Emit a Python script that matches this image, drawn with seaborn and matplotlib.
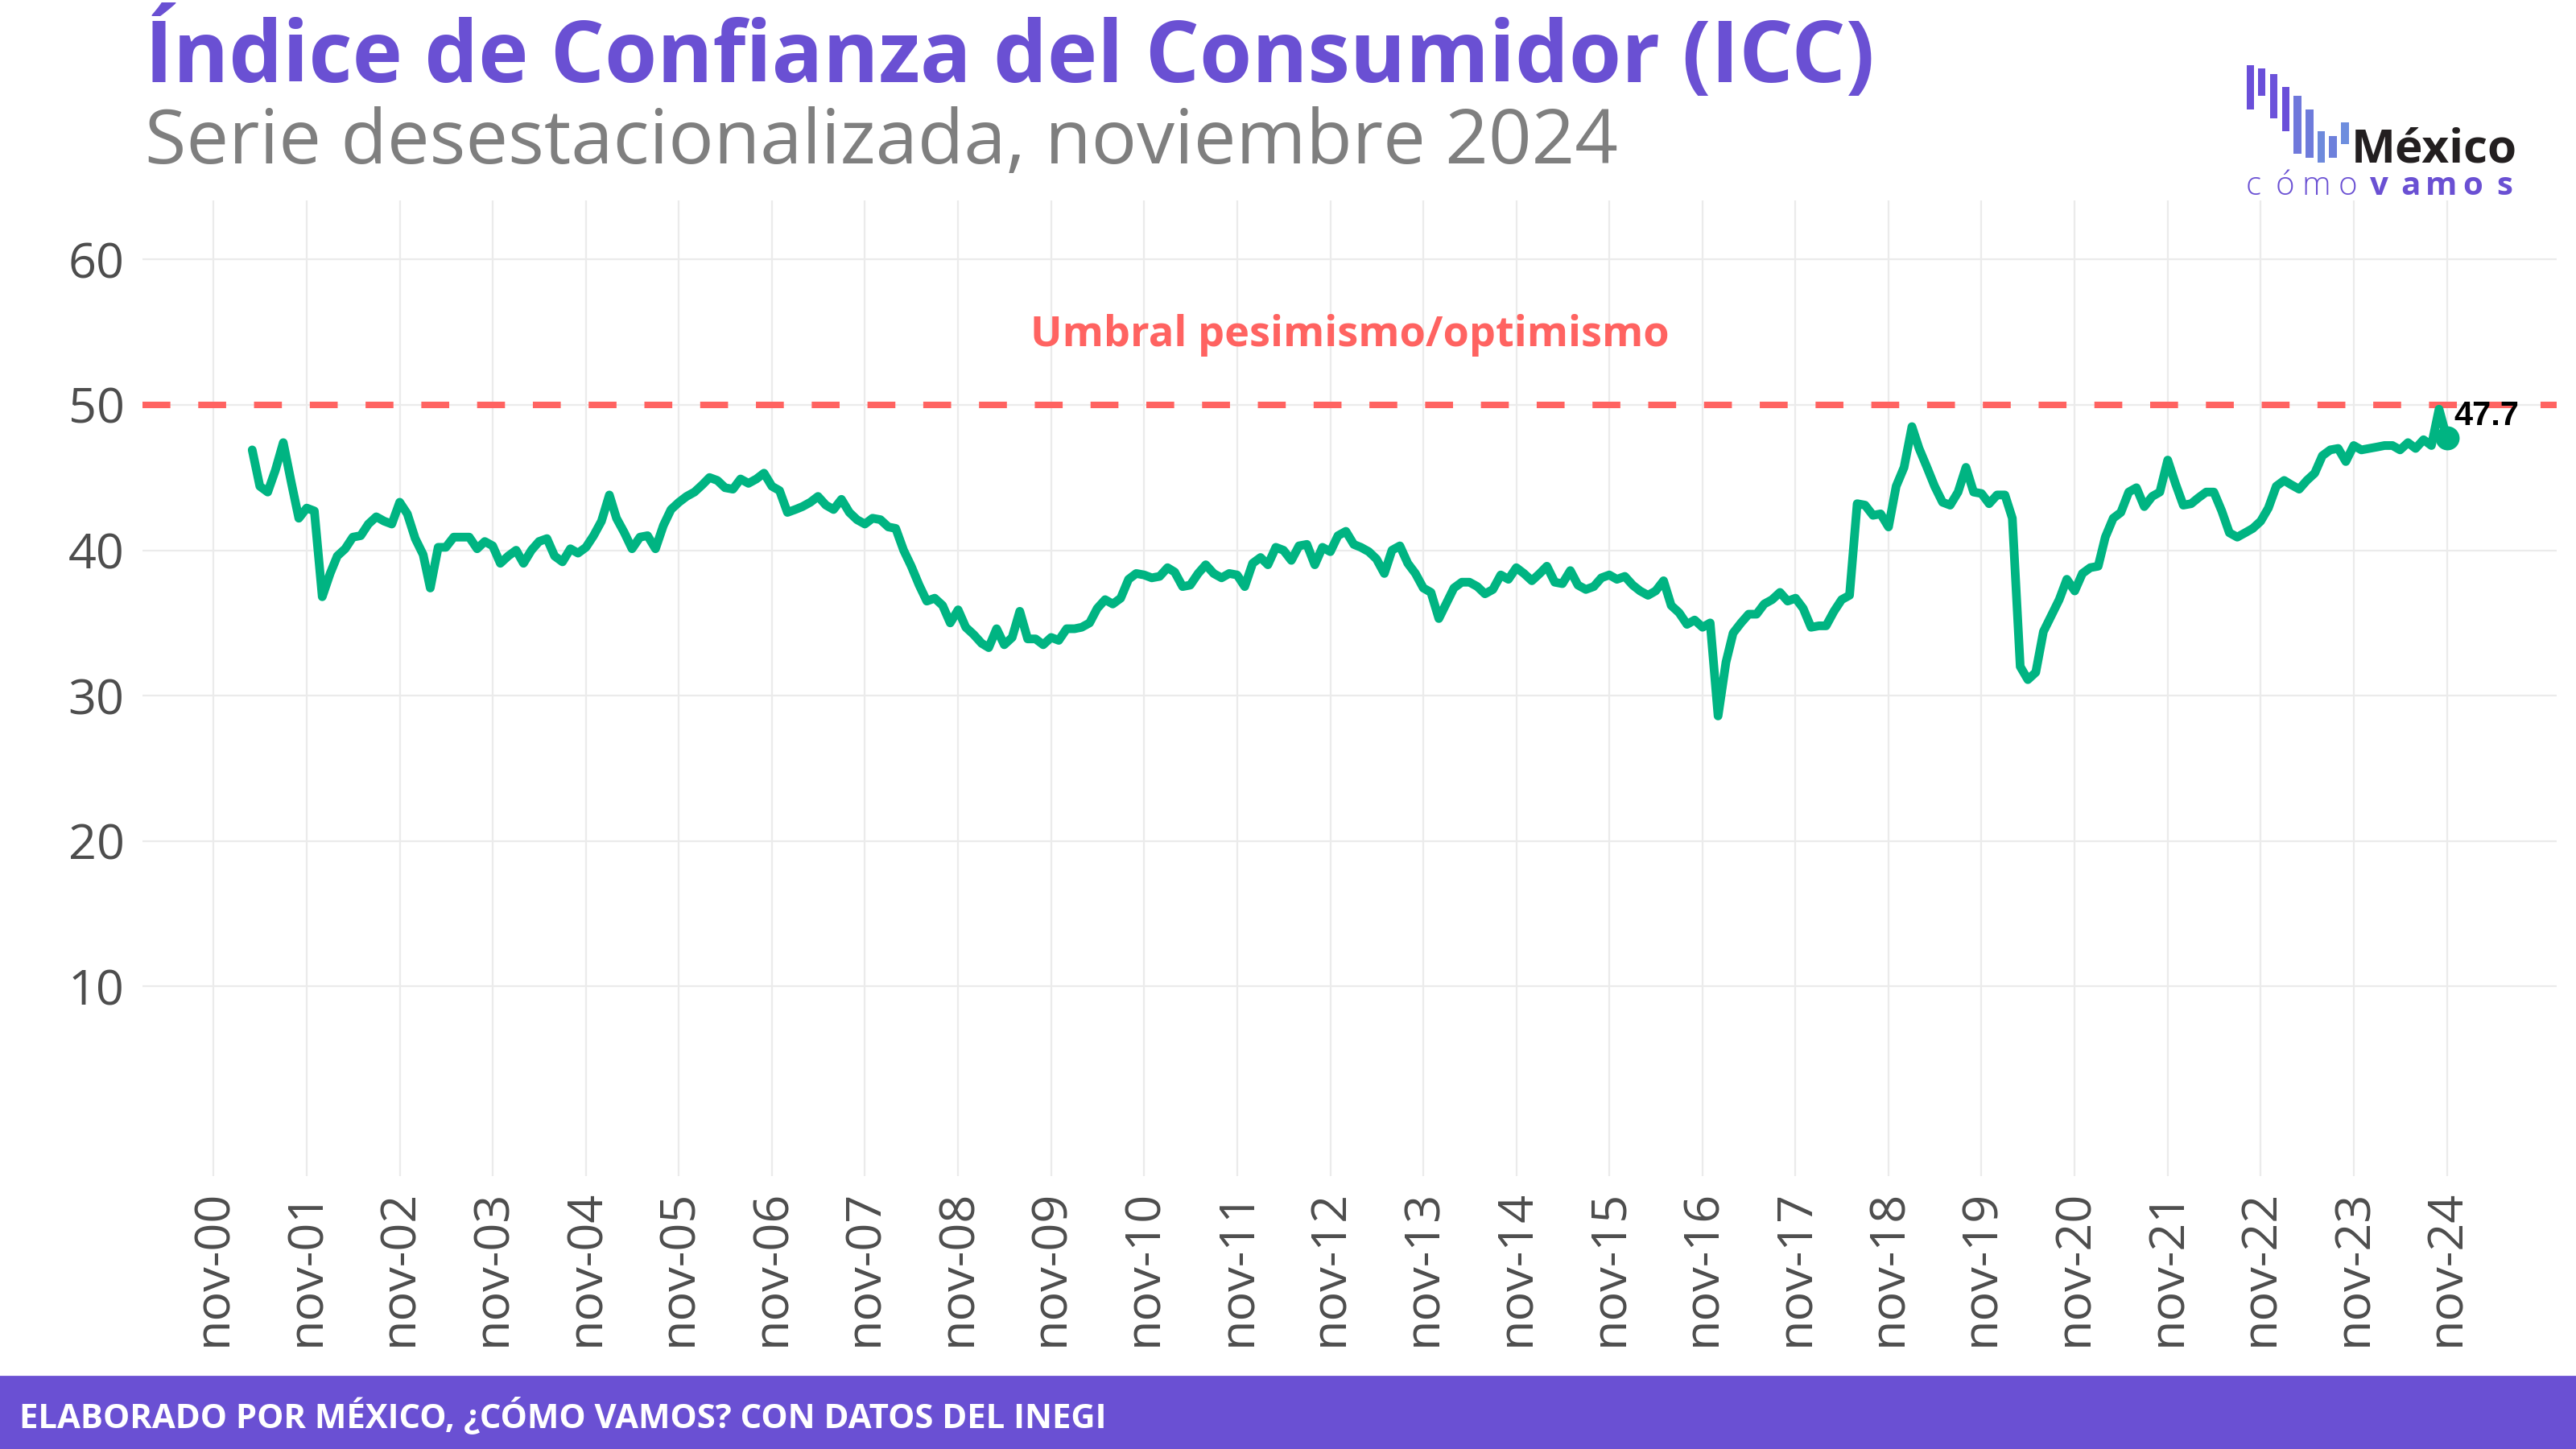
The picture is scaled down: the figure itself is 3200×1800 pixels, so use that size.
import matplotlib.pyplot as plt
import matplotlib.patches as mpatches
import seaborn as sns
import pandas as pd

# ICC, serie desestacionalizada (abr-2001 a nov-2024)
icc_2001 = [46.9, 44.4, 44.0, 45.5, 47.4, 44.7, 42.2, 42.9, 42.7]
icc_2002 = [36.8, 38.4, 39.6, 40.1, 40.9, 41.0, 41.8, 42.3, 42.0, 41.8, 43.3, 42.5]
icc_2003 = [40.8, 39.7, 37.4, 40.2, 40.2, 40.9, 40.9, 40.9, 40.1, 40.6, 40.3, 39.1]
icc_2004 = [39.6, 40.0, 39.1, 40.0, 40.6, 40.8, 39.6, 39.2, 40.1, 39.8, 40.2, 41.0]
icc_2005 = [42.0, 43.8, 42.2, 41.2, 40.1, 40.9, 41.0, 40.1, 41.7, 42.8, 43.3, 43.7]
icc_2006 = [44.0, 44.5, 45.0, 44.8, 44.3, 44.2, 44.9, 44.6, 44.9, 45.3, 44.4, 44.1]
icc_2007 = [42.6, 42.8, 43.0, 43.3, 43.7, 43.1, 42.8, 43.5, 42.6, 42.1, 41.8, 42.2]
icc_2008 = [42.1, 41.6, 41.5, 40.0, 38.9, 37.6, 36.5, 36.7, 36.2, 35.0, 35.9, 34.7]
icc_2009 = [34.2, 33.6, 33.3, 34.6, 33.5, 34.0, 35.8, 33.9, 33.9, 33.5, 34.0, 33.8]
icc_2010 = [34.6, 34.6, 34.7, 35.0, 36.0, 36.6, 36.3, 36.7, 38.0, 38.4, 38.3, 38.1]
icc_2011 = [38.2, 38.8, 38.5, 37.5, 37.6, 38.4, 39.0, 38.4, 38.1, 38.4, 38.3, 37.5]
icc_2012 = [39.1, 39.5, 39.0, 40.2, 40.0, 39.3, 40.3, 40.4, 39.0, 40.2, 39.9, 41.0]
icc_2013 = [41.3, 40.4, 40.2, 39.9, 39.4, 38.4, 40.0, 40.3, 39.1, 38.4, 37.4, 37.1]
icc_2014 = [35.3, 36.4, 37.4, 37.8, 37.8, 37.5, 37.0, 37.3, 38.3, 38.0, 38.8, 38.4]
icc_2015 = [37.9, 38.4, 38.9, 37.8, 37.7, 38.6, 37.6, 37.3, 37.5, 38.1, 38.3, 38.0]
icc_2016 = [38.2, 37.6, 37.2, 36.9, 37.2, 37.9, 36.2, 35.7, 34.9, 35.2, 34.7, 35.0]
icc_2017 = [28.6, 32.3, 34.3, 35.0, 35.6, 35.6, 36.3, 36.6, 37.1, 36.5, 36.7, 36.0]
icc_2018 = [34.7, 34.8, 34.8, 35.8, 36.6, 36.9, 43.2, 43.1, 42.4, 42.5, 41.6, 44.4]
icc_2019 = [45.7, 48.5, 47.0, 45.7, 44.4, 43.3, 43.1, 44.0, 45.7, 44.0, 43.9, 43.2]
icc_2020 = [43.8, 43.8, 42.2, 32.0, 31.1, 31.6, 34.4, 35.5, 36.6, 38.0, 37.2, 38.4]
icc_2021 = [38.8, 38.9, 40.9, 42.2, 42.6, 44.0, 44.3, 43.0, 43.7, 44.0, 46.2, 44.6]
icc_2022 = [43.1, 43.2, 43.6, 44.0, 44.0, 42.7, 41.2, 40.9, 41.2, 41.5, 42.0, 42.9]
icc_2023 = [44.4, 44.8, 44.5, 44.2, 44.8, 45.3, 46.5, 46.9, 47.0, 46.1, 47.2, 46.9]
icc_2024 = [47.0, 47.1, 47.2, 47.2, 46.9, 47.4, 47.0, 47.6, 47.2, 49.7, 47.7]

umbral = 50
umbral_label = "Umbral pesimismo/optimismo"
y_ticks = [10, 20, 30, 40, 50, 60]
tick_years = list(range(2000, 2025))

values = (icc_2001 + icc_2002 + icc_2003 + icc_2004 + icc_2005 + icc_2006 + icc_2007
          + icc_2008 + icc_2009 + icc_2010 + icc_2011 + icc_2012 + icc_2013 + icc_2014
          + icc_2015 + icc_2016 + icc_2017 + icc_2018 + icc_2019 + icc_2020 + icc_2021
          + icc_2022 + icc_2023 + icc_2024)
df = pd.DataFrame({
    "fecha": pd.date_range("2001-04-01", periods=len(values), freq="MS"),
    "icc": values,
})

PURPLE = "#6A50D3"
GREEN = "#00B482"
RED = "#FF6361"
GRID = "#EBEBEB"

sns.set_theme(style="white")
plt.rcParams["font.family"] = ["Open Sans", "DejaVu Sans"]

fig = plt.figure(figsize=(16, 9), dpi=200)
ax = fig.add_axes([0.0553, 0.1883, 0.9372, 0.6733])

sns.lineplot(data=df, x="fecha", y="icc", color=GREEN, linewidth=3.9, ax=ax, zorder=3)
ax.axhline(umbral, color=RED, linewidth=2.9, linestyle=(0, (4.3, 4.3)), zorder=2)

last = df.iloc[-1]
ax.scatter([last["fecha"]], [last["icc"]], s=95, color=GREEN, zorder=4)
ax.annotate(f"{last['icc']:.1f}", (last["fecha"], last["icc"]), xytext=(3, 10),
            textcoords="offset points", ha="left", va="center",
            fontsize=15, fontweight="bold", color="black",
            family=["Liberation Sans", "DejaVu Sans"])

span = df["fecha"].max() - df["fecha"].min()
x0 = df["fecha"].min() - span * 0.05
x1 = df["fecha"].max() + span * 0.05
ax.set_xlim(x0, x1)
ax.set_ylim(-3.05, 64.05)

ax.text(df["fecha"].min() + span / 2, 54.8, umbral_label, ha="center", va="center",
        fontsize=18.8, fontweight="bold", color=RED)

ticks = pd.to_datetime([f"{y}-11-01" for y in tick_years])
ax.set_xticks(ticks)
ax.set_xticklabels([f"nov-{y % 100:02d}" for y in tick_years], rotation=90)
ax.set_yticks(y_ticks)
ax.tick_params(axis="both", length=0, labelsize=22, labelcolor="#4D4D4D")
ax.tick_params(axis="x", pad=6)
ax.tick_params(axis="y", pad=8)
ax.set_xlabel("")
ax.set_ylabel("")
ax.grid(True, color=GRID, linewidth=0.8)
ax.set_axisbelow(True)
for s in ax.spines.values():
    s.set_visible(False)

# titulos
fig.text(0.05625, 0.9433, "Índice de Confianza del Consumidor (ICC)", ha="left",
         va="baseline", fontsize=38, fontweight="bold", color=PURPLE)
fig.text(0.05625, 0.8872, "Serie desestacionalizada, noviembre 2024", ha="left",
         va="baseline", fontsize=33.8, color="#7F7F7F")

# pie
fig.add_artist(mpatches.Rectangle((0, 0), 1, 0.05, transform=fig.transFigure,
                                  color=PURPLE, zorder=0))
fig.text(0.0075, 0.0222, "ELABORADO POR MÉXICO, ¿CÓMO VAMOS? CON DATOS DEL INEGI",
         ha="left", va="center", fontsize=15.1, fontweight="bold", color="white")

# logo
bars = [(2790.7, 80.7, 135.7, "#6A4FD9"), (2805.0, 85.3, 119.0, "#6A4FD9"),
        (2820.0, 91.7, 146.7, "#6C52DA"), (2835.0, 108.3, 163.3, "#6A4FD9"),
        (2849.3, 119.3, 190.7, "#6F78DB"), (2864.3, 136.0, 196.0, "#6E7BDB"),
        (2879.0, 163.3, 201.7, "#6E8ADC"), (2893.3, 168.7, 196.0, "#6E80DB"),
        (2908.3, 152.0, 179.3, "#6E8EDE")]
for bx, top, bot, c in bars:
    fig.add_artist(mpatches.Rectangle((bx / 3200, 1 - bot / 1800), 9.3 / 3200,
                                      (bot - top) / 1800, transform=fig.transFigure,
                                      color=c, lw=0))
fig.text(2921 / 3200, 1 - 202 / 1800, "México", ha="left", va="baseline",
         fontsize=21, fontweight="bold", color="#231F20")
letters = ["c", "ó", "m", "o", "v", "a", "m", "o", "s"]
for i, ch in enumerate(letters):
    fig.text((2799 + 39 * i) / 3200, 1 - 242 / 1800, ch, ha="center", va="baseline",
             fontsize=14.5, fontweight="light" if i < 4 else "bold", color=PURPLE)

plt.savefig("out.png", dpi=200)
